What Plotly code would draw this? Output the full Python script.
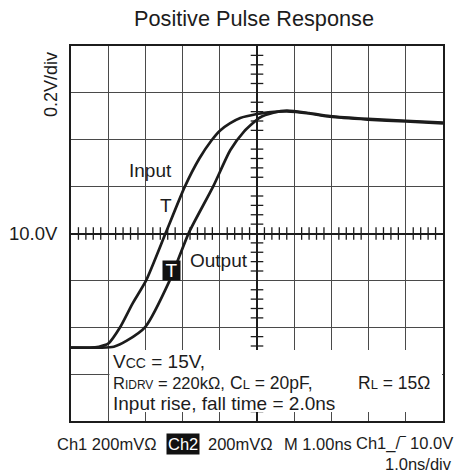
import plotly.graph_objects as go
import numpy as np

# time in ns relative to trigger, amplitude in V relative to 10.0V
t_input = [-5.0, -4.5, -4.25, -4.0, -3.68, -3.35, -2.98, -2.45, -1.94, -1.55, -1.22,
           -0.99, -0.73, -0.45, 0.0, 0.3, 0.8, 1.4, 1.96, 2.98, 4.0, 5.0]
v_input = [-0.487, -0.487, -0.483, -0.470, -0.400, -0.300, -0.200, 0.004, 0.200, 0.320, 0.398,
           0.440, 0.470, 0.493, 0.510, 0.517, 0.521, 0.512, 0.498, 0.486, 0.478, 0.470]

t_output = [-5.0, -4.2, -3.85, -3.5, -3.0, -2.34, -1.83, -1.18, -0.72, -0.35, 0.08,
            0.44, 0.8, 1.4, 1.96, 2.98, 4.0, 5.0]
v_output = [-0.487, -0.487, -0.483, -0.457, -0.398, -0.198, 0.004, 0.200, 0.355, 0.435, 0.495,
            0.515, 0.524, 0.514, 0.501, 0.489, 0.481, 0.473]

x_range = [-5, 5]      # 1.0ns/div
y_range = [-0.8, 0.8]  # 0.2V/div

FONT = "Arial, Liberation Sans, sans-serif"
INK = "#1c1c1c"

L, R, T, B = 71, 15, 46, 54
W, H = 458, 475
PW, PH = W - L - R, H - T - B


def px(x, y):
    # pixel position in the page -> paper coords
    return (x - L) / PW, (H - B - y) / PH


fig = go.Figure()

# minor ticks on the centre cross
minor_x = [v for v in np.round(np.arange(-5, 5.001, 0.2), 2) if abs(v - round(v)) > 1e-6]
minor_y = [v for v in np.round(np.arange(-0.8, 0.801, 0.04), 3) if abs(v / 0.2 - round(v / 0.2)) > 1e-6]
fig.add_trace(go.Scatter(x=minor_x, y=[0] * len(minor_x), mode="markers",
                         marker=dict(symbol="line-ns", size=9, line=dict(color=INK, width=1.3)),
                         hoverinfo="skip", showlegend=False))
fig.add_trace(go.Scatter(x=[0] * len(minor_y), y=minor_y, mode="markers",
                         marker=dict(symbol="line-ew", size=9, line=dict(color=INK, width=1.3)),
                         hoverinfo="skip", showlegend=False))

fig.add_trace(go.Scatter(x=t_input, y=v_input, mode="lines", name="Input",
                         line=dict(color=INK, width=2.7, shape="spline", smoothing=0.6),
                         showlegend=False))
fig.add_trace(go.Scatter(x=t_output, y=v_output, mode="lines", name="Output",
                         line=dict(color=INK, width=2.7, shape="spline", smoothing=0.6),
                         showlegend=False))

# white box behind the conditions text
fig.add_shape(type="rect", xref="paper", yref="paper", layer="above",
              x0=px(109.5, 0)[0], x1=px(442, 0)[0], y0=px(0, 412)[1], y1=px(0, 350)[1],
              fillcolor="white", line=dict(width=0))

ann = []


def text(s, x, y, size=19, xanchor="left", yanchor="middle", **kw):
    xp, yp = px(x, y)
    ann.append(dict(text=s, x=xp, y=yp, xref="paper", yref="paper", showarrow=False,
                    xanchor=xanchor, yanchor=yanchor, font=dict(family=FONT, size=size, color=INK), **kw))


text("Input", 150, 170, xanchor="center")
text("T", 166, 205, xanchor="center")
text("Output", 219, 260, xanchor="center")
text("T", 171.5, 270.5, xanchor="center", bgcolor="#111", borderpad=0,
     width=17, height=19)
ann[-1]["font"]["color"] = "white"

text("10.0V", 60, 233, size=18.5, xanchor="right")
text("0.2V/div", 51, 85, size=18, xanchor="center", textangle=-90)

sm = "<span style='font-size:%dpx'>%s</span>"
text("V" + sm % (14, "CC") + " = 15V,", 111, 361)
text("R" + sm % (12, "IDRV") + " = 220kΩ,", 111, 383, size=16.5)
text("C" + sm % (13, "L") + " = 20pF,", 228, 383, size=17.5)
text("R" + sm % (13, "L") + " = 15Ω", 356, 383, size=17.5)
text("Input rise, fall time = 2.0ns", 111, 403)

# scope readout
text("Ch1 200mVΩ", 55, 444, size=16.5)
text("Ch2", 182.5, 444, size=16.5, xanchor="center", bgcolor="#111", borderpad=1)
ann[-1]["font"]["color"] = "white"
text("200mVΩ", 206, 444, size=16.5)
text("M 1.00ns", 282, 444, size=16.5)
text("Ch1_/‾ 10.0V", 455, 444, size=16.5, xanchor="right")
text("1.0ns/div", 454, 464, size=16.5, xanchor="right")

axis = dict(showgrid=True, gridcolor="#4a4a4a", gridwidth=1,
            zeroline=True, zerolinecolor=INK, zerolinewidth=1.5,
            showticklabels=False, ticks="", showline=True, mirror=True,
            linecolor=INK, linewidth=2, fixedrange=True)

fig.update_layout(
    width=W, height=H,
    margin=dict(l=L, r=R, t=T, b=B),
    paper_bgcolor="white", plot_bgcolor="white",
    title=dict(text="Positive Pulse Response", x=254 / W, xanchor="center",
               y=1 - 18 / H, yanchor="middle", font=dict(family=FONT, size=21.7, color=INK)),
    xaxis=dict(range=x_range, dtick=1, **axis),
    yaxis=dict(range=y_range, dtick=0.2, **axis),
    annotations=ann,
)

# drop the default 8px page margin so the figure sits at the window origin
fig.write_html("out.html", config={"displayModeBar": False},
               post_script="document.body.style.margin='0';")
